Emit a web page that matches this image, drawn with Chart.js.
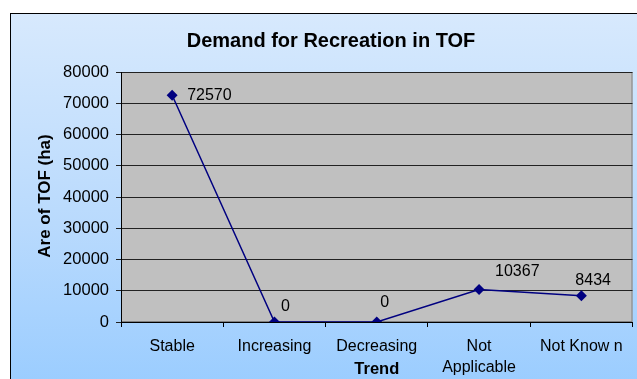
<!DOCTYPE html>
<html>
<head>
<meta charset="utf-8">
<script src="https://cdn.jsdelivr.net/npm/chart.js@4/dist/chart.umd.min.js"></script>
<style>
  html, body { margin: 0; padding: 0; background: #fff; overflow: hidden; }
  #frame {
    position: absolute; left: 10px; top: 13px;
    width: 640px; height: 380px;
    border: 1px solid #000;
    background: linear-gradient(to bottom, #d7e9fd 0%, #b9dafd 55%, #99ccff 100%);
  }
  #chart { position: absolute; left: 0; top: 0; }
</style>
</head>
<body>
<div id="frame"><canvas id="chart" width="627" height="366"></canvas></div>
<script>
const categories = [['Stable'], ['Increasing'], ['Decreasing'], ['Not', 'Applicable'], ['Not Know n']];
const areaValues = [72570, 0, 0, 10367, 8434];
const yTicks = [0, 10000, 20000, 30000, 40000, 50000, 60000, 70000, 80000];

const FONT = '"Liberation Sans", Arial, sans-serif';

// title, axis titles and point value labels
const textPlugin = {
  id: 'texts',
  beforeDraw(chart) {
    // grey plot area with its outline
    const { ctx, chartArea: a } = chart;
    ctx.save();
    ctx.fillStyle = '#c0c0c0';
    ctx.fillRect(a.left, a.top, a.right - a.left, a.bottom - a.top);
    ctx.strokeStyle = '#808080';
    ctx.lineWidth = 1;
    ctx.strokeRect(a.left + 0.5, a.top + 0.5, a.right - a.left - 1, a.bottom - a.top - 1);
    ctx.restore();
  },
  afterDatasetsDraw(chart) {
    const ctx = chart.ctx;
    ctx.save();
    ctx.fillStyle = '#000';
    ctx.textBaseline = 'middle';
    ctx.textAlign = 'center';

    ctx.font = 'bold 20px ' + FONT;
    ctx.fillText('Demand for Recreation in TOF', 320, 27);

    ctx.font = 'bold 16.5px ' + FONT;
    ctx.fillText('Trend', chart.scales.x.getPixelForValue(2), 355);

    ctx.save();
    ctx.font = 'bold 17px ' + FONT;
    ctx.translate(34, 182);
    ctx.rotate(-Math.PI / 2);
    ctx.fillText('Are of TOF (ha)', 0, 0);
    ctx.restore();

    // value labels beside each marker
    const offs = [[15, 0], [11, -15], [8, -19], [16, -18], [-6, -15]];
    ctx.font = '16px ' + FONT;
    ctx.textAlign = 'left';
    chart.getDatasetMeta(0).data.forEach((pt, i) => {
      const label = String(areaValues[i]);
      let x = pt.x + offs[i][0];
      if (i === 1 || i === 2) x -= ctx.measureText(label).width / 2;
      ctx.fillText(label, x, pt.y + offs[i][1]);
    });
    ctx.restore();
  }
};

new Chart(document.getElementById('chart'), {
  type: 'line',
  data: {
    labels: categories,
    datasets: [{
      data: areaValues,
      borderColor: '#000080',
      backgroundColor: '#000080',
      borderWidth: 1.5,
      pointStyle: 'rectRot',
      pointRadius: 5.5,
      pointBorderWidth: 0,
      tension: 0,
      fill: false
    }]
  },
  options: {
    responsive: false,
    animation: false,
    layout: { padding: { left: 0, top: 58, right: 3, bottom: 0 } },
    plugins: { legend: { display: false }, tooltip: { enabled: false }, title: { display: false } },
    scales: {
      x: {
        type: 'category',
        offset: true,
        afterFit: s => { s.height = 58; },
        grid: { offset: true, drawOnChartArea: false, tickLength: 5, color: '#000' },
        border: { color: '#000', width: 1 },
        ticks: {
          color: '#000', font: { family: FONT, size: 16, lineHeight: 1.3 },
          padding: 9, maxRotation: 0, autoSkip: false
        }
      },
      y: {
        min: 0,
        max: 80000,
        afterFit: s => { s.width = 110; },
        afterBuildTicks: s => { s.ticks = yTicks.map(v => ({ value: v })); },
        grid: { color: '#222', tickLength: 5 },
        border: { color: '#000', width: 1 },
        ticks: {
          color: '#000', font: { family: FONT, size: 16.5 }, padding: 7,
          callback: v => String(v)
        }
      }
    }
  },
  plugins: [textPlugin]
});
</script>
</body>
</html>
